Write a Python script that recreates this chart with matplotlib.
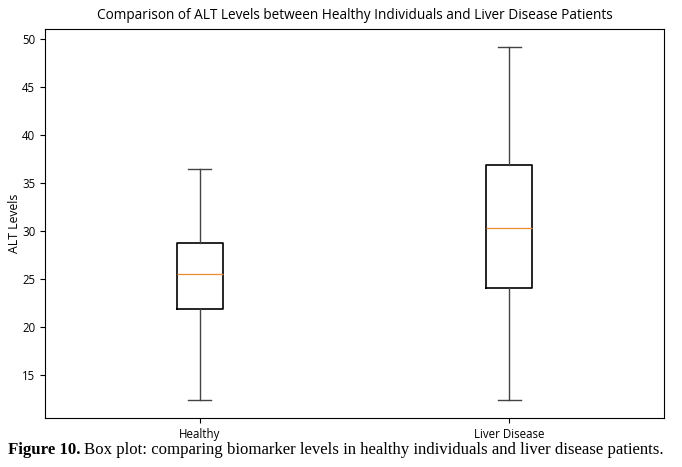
import matplotlib
matplotlib.use("Agg")
import matplotlib.pyplot as plt

groups = ["Healthy", "Liver Disease"]
whislo = [12.32, 12.32]
q1 = [21.87, 24.09]
med = [25.55, 30.31]
q3 = [28.75, 36.88]
whishi = [36.46, 49.23]

plt.rcParams["font.family"] = ["Open Sans", "DejaVu Sans"]

stats = [dict(label=g, whislo=a, q1=b, med=c, q3=d, whishi=e, fliers=[])
         for g, a, b, c, d, e in zip(groups, whislo, q1, med, q3, whishi)]

fig = plt.figure(figsize=(6.82, 4.67), dpi=100)
ax = fig.add_axes([45/682, 1 - 418/467, 619/682, 389/467])
ax.bxp(stats, boxprops=dict(color="black", linewidth=1.2),
       whiskerprops=dict(color="#444444", linewidth=1.0),
       capprops=dict(color="#444444", linewidth=1.0),
       medianprops=dict(color="#f08a2c", linewidth=0.9))
ax.set_title("Comparison of ALT Levels between Healthy Individuals and Liver Disease Patients",
             fontsize=9.8, pad=7)
ax.set_ylabel("ALT Levels", fontsize=8.8, labelpad=1)
ax.tick_params(labelsize=8.3)

fig.canvas.draw()
t1 = fig.text(8/682, 1 - 454/467, "Figure 10.", family="Liberation Serif",
              weight="bold", fontsize=12.1)
r = fig.canvas.get_renderer()
bb = t1.get_window_extent(r)
fig.text((bb.x1 + 4)/682, 1 - 454/467, "Box plot: comparing biomarker levels in healthy individuals and liver disease patients.",
         family="Liberation Serif", fontsize=12.1)

fig.savefig("out.png", dpi=100)
